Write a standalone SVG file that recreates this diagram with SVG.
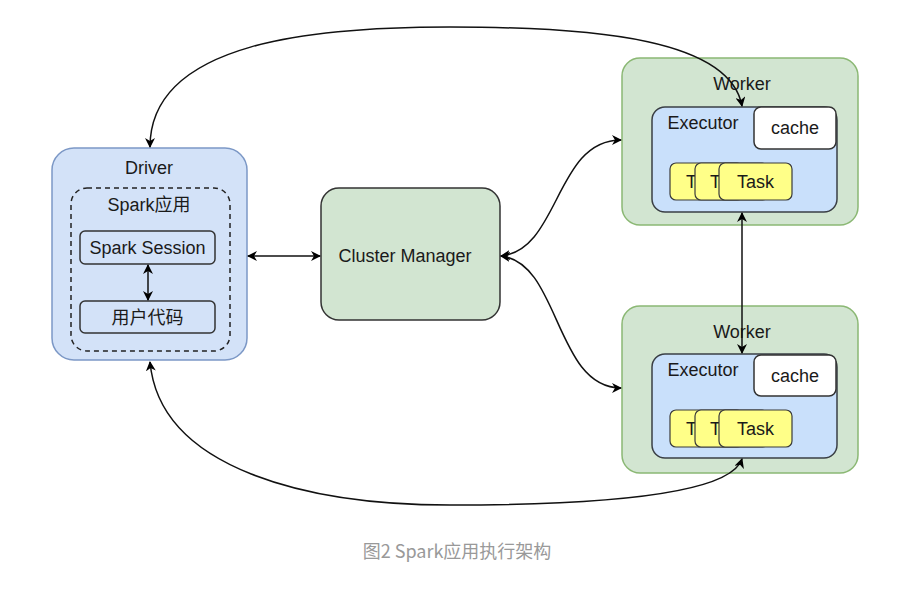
<svg xmlns="http://www.w3.org/2000/svg" width="905" height="592" viewBox="0 0 905 592">
<defs>
<marker id="ah" viewBox="0 0 10 10" refX="9" refY="5" markerWidth="10" markerHeight="10" markerUnits="userSpaceOnUse" orient="auto-start-reverse">
<path d="M0,0 L10,5 L0,10 L3,5 Z" fill="#000"/>
</marker>
<style>
text{font-family:"Liberation Sans",Arial,"Noto Sans CJK SC",sans-serif;fill:#1a1a1a;font-size:18px;text-anchor:middle;dominant-baseline:central}
.drv{fill:#d3e2f8;stroke:#7c98c6;stroke-width:1.5}
.dash{fill:none;stroke:#222;stroke-width:1.5;stroke-dasharray:5 4}
.inner{fill:#d3e2f8;stroke:#333;stroke-width:1.5}
.grn{fill:#d2e5d1;stroke:#8bb874;stroke-width:1.5}
.cm{fill:#d2e5d1;stroke:#333;stroke-width:1.5}
.exe{fill:#c9e0fb;stroke:#3a3f45;stroke-width:1.5}
.cache{fill:#fff;stroke:#333;stroke-width:1.5}
.task{fill:#ffff88;stroke:#3a3a3a;stroke-width:1.2}
.t{text-anchor:start}
.con{fill:none;stroke:#111;stroke-width:1.5;marker-start:url(#ah);marker-end:url(#ah)}
</style>
</defs>
<rect width="905" height="592" fill="#fff"/>

<g id="driver">
<rect class="drv" x="52" y="148" width="195" height="212" rx="22"/>
<text x="149" y="168">Driver</text>
<rect class="dash" x="71" y="188" width="159" height="163" rx="16"/>
<text x="149" y="205">Spark应用</text>
</g>
<g id="spark-session">
<rect class="inner" x="80" y="231" width="135" height="33" rx="5"/>
<text x="147.5" y="248">Spark Session</text>
</g>
<g id="user-code">
<rect class="inner" x="80" y="301" width="135" height="32" rx="5"/>
<text x="147.5" y="317.5">用户代码</text>
</g>

<g id="cluster-manager">
<rect class="cm" x="321" y="188" width="179" height="132" rx="18"/>
<text x="405" y="256">Cluster Manager</text>
</g>

<g id="worker1">
<rect class="grn" x="622" y="58" width="236" height="167" rx="18"/>
<text x="742" y="84">Worker</text>
<rect class="exe" x="652" y="107" width="185" height="105" rx="13"/>
<text x="703" y="123">Executor</text>
<rect class="cache" x="754" y="107" width="82" height="42" rx="7"/>
<text x="795" y="128">cache</text>
<rect class="task" x="670" y="163" width="73" height="37" rx="6"/>
<text class="t" x="686" y="182">T</text>
<rect class="task" x="695" y="163" width="73" height="37" rx="6"/>
<text class="t" x="710" y="182">T</text>
<rect class="task" x="719" y="163" width="73" height="37" rx="6"/>
<text x="755.5" y="182">Task</text>
</g>

<g id="worker2">
<rect class="grn" x="622" y="306" width="236" height="167" rx="18"/>
<text x="742" y="332">Worker</text>
<rect class="exe" x="652" y="354" width="185" height="104" rx="13"/>
<text x="703" y="370">Executor</text>
<rect class="cache" x="754" y="355" width="82" height="41" rx="7"/>
<text x="795" y="376">cache</text>
<rect class="task" x="670" y="410" width="73" height="37" rx="6"/>
<text class="t" x="686" y="429">T</text>
<rect class="task" x="695" y="410" width="73" height="37" rx="6"/>
<text class="t" x="710" y="429">T</text>
<rect class="task" x="719" y="410" width="73" height="37" rx="6"/>
<text x="755.5" y="429">Task</text>
</g>

<g id="connectors">
<path class="con" d="M148,265 L148,300"/>
<path class="con" d="M248,256 L320,256"/>
<path class="con" d="M501,256 C560,250 555,140 621,140"/>
<path class="con" d="M501,256 C560,262 555,388 621,388"/>
<path class="con" d="M742,213 L742,353"/>
<path class="con" d="M150,147 C150,40 320,27 450,27 C600,27 730,40 742,106"/>
<path class="con" d="M150,362 C160,470 310,505 450,505 C600,505 730,495 742,459"/>
</g>

<text x="457" y="550" style="fill:#999;font-size:18px;font-family:'Noto Sans CJK SC','Liberation Sans',sans-serif">图2 Spark应用执行架构</text>
</svg>
